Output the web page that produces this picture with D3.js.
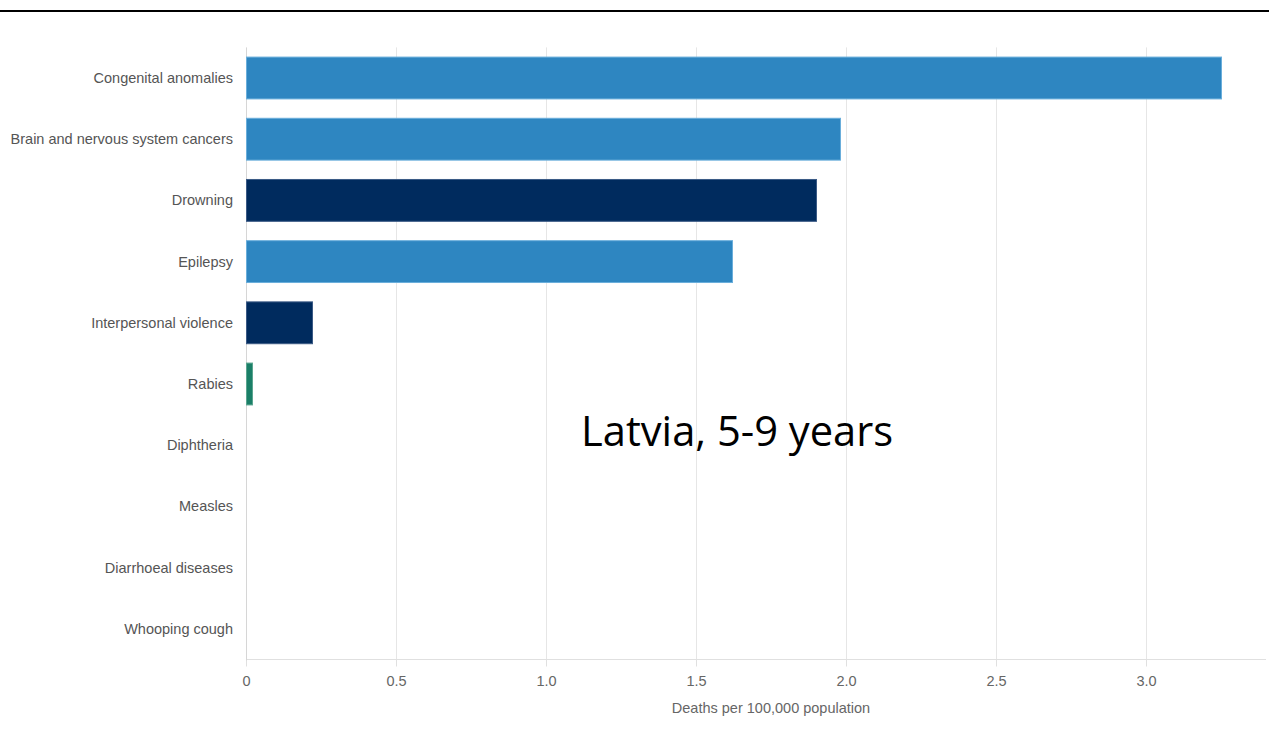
<!DOCTYPE html>
<html>
<head>
<meta charset="utf-8">
<script src="https://cdn.jsdelivr.net/npm/d3@7"></script>
<style>
  html, body { margin: 0; padding: 0; background: #fff; }
  svg { display: block; }
</style>
</head>
<body>
<svg id="chart" width="1269" height="733"></svg>
<script>
const categories = ["Congenital anomalies", "Brain and nervous system cancers", "Drowning", "Epilepsy", "Interpersonal violence", "Rabies", "Diphtheria", "Measles", "Diarrhoeal diseases", "Whooping cough"];
const values = [3.25, 1.98, 1.90, 1.62, 0.22, 0.02, 0, 0, 0, 0];
const groups = ["ncd", "ncd", "injury", "ncd", "injury", "communicable", "communicable", "communicable", "communicable", "communicable"];
const tickValues = [0, 0.5, 1.0, 1.5, 2.0, 2.5, 3.0];
const tickLabels = ["0", "0.5", "1.0", "1.5", "2.0", "2.5", "3.0"];
const xTitle = "Deaths per 100,000 population";
const overlayText = "Latvia, 5-9 years";

(function () {
const fill = { ncd: "#2e86c1", injury: "#002b5e", communicable: "#1b7f68" };
const stroke = { ncd: "#6aaedb", injury: "#3b5a85", communicable: "#5aa58f" };

const svg = d3.select("#chart");
const pLeft = 246, pRight = 1266, pTop = 47.4, pBottom = 659.4;

// top rule
svg.append("line").attr("x1", 0).attr("x2", 1269).attr("y1", 11).attr("y2", 11)
  .attr("stroke", "#000").attr("stroke-width", 2);

const x = d3.scaleLinear().domain([0, 3.4]).range([pLeft, pRight]);
const y = d3.scaleBand().domain(categories).range([pTop, pBottom]).paddingInner(0.3).paddingOuter(0.15);

// grid
svg.append("g").selectAll("line").data(tickValues.filter(d => d > 0)).join("line")
  .attr("x1", d => Math.round(x(d)) + 0.5).attr("x2", d => Math.round(x(d)) + 0.5)
  .attr("y1", pTop).attr("y2", pBottom)
  .attr("stroke", "#e6e6e6").attr("stroke-width", 1);

// x axis
const xAxis = d3.axisBottom(x).tickValues(tickValues).tickFormat((d, i) => tickLabels[i]).tickSize(7).tickPadding(9);
const gx = svg.append("g").attr("transform", `translate(0,${Math.round(pBottom) + 0.5})`).call(xAxis);
gx.select(".domain").attr("stroke", "#e0e0e0").attr("d", `M${pLeft},0H${pRight}`);
gx.selectAll(".tick").attr("transform", d => `translate(${Math.round(x(d)) + 0.5},0)`);
gx.selectAll(".tick line").attr("stroke", "#e0e0e0");
gx.selectAll(".tick text").attr("fill", "#666").attr("font-size", 14.5).attr("font-family", "Liberation Sans, Arial, sans-serif");

// y axis line
svg.append("line").attr("x1", pLeft + 0.5).attr("x2", pLeft + 0.5).attr("y1", pTop).attr("y2", pBottom + 1)
  .attr("stroke", "#d6d6d6");

// category labels
svg.append("g").selectAll("text").data(categories).join("text")
  .attr("x", 233).attr("y", d => y(d) + y.bandwidth() / 2)
  .attr("dy", "0.35em").attr("text-anchor", "end")
  .attr("fill", "#555").attr("font-size", 14.5).attr("font-family", "Liberation Sans, Arial, sans-serif")
  .text(d => d);

// bars
svg.append("g").selectAll("rect").data(categories.map((c, i) => ({ c, v: values[i], g: groups[i] })).filter(d => d.v > 0)).join("rect")
  .attr("x", x(0) + 0.5).attr("y", d => y(d.c) + 0.5)
  .attr("width", d => x(d.v) - x(0))
  .attr("height", y.bandwidth() - 1)
  .attr("fill", d => fill[d.g]).attr("stroke", d => stroke[d.g]).attr("stroke-width", 1);

// x title
svg.append("text").attr("x", 771).attr("y", 713)
  .attr("text-anchor", "middle").attr("fill", "#666").attr("font-size", 14.5)
  .attr("font-family", "Liberation Sans, Arial, sans-serif").text(xTitle);

// overlay
svg.append("text").attr("x", 581).attr("y", 446)
  .attr("fill", "#000").attr("font-size", 41.7)
  .attr("font-family", "Open Sans, Noto Sans, sans-serif").text(overlayText);
})();
</script>
</body>
</html>
